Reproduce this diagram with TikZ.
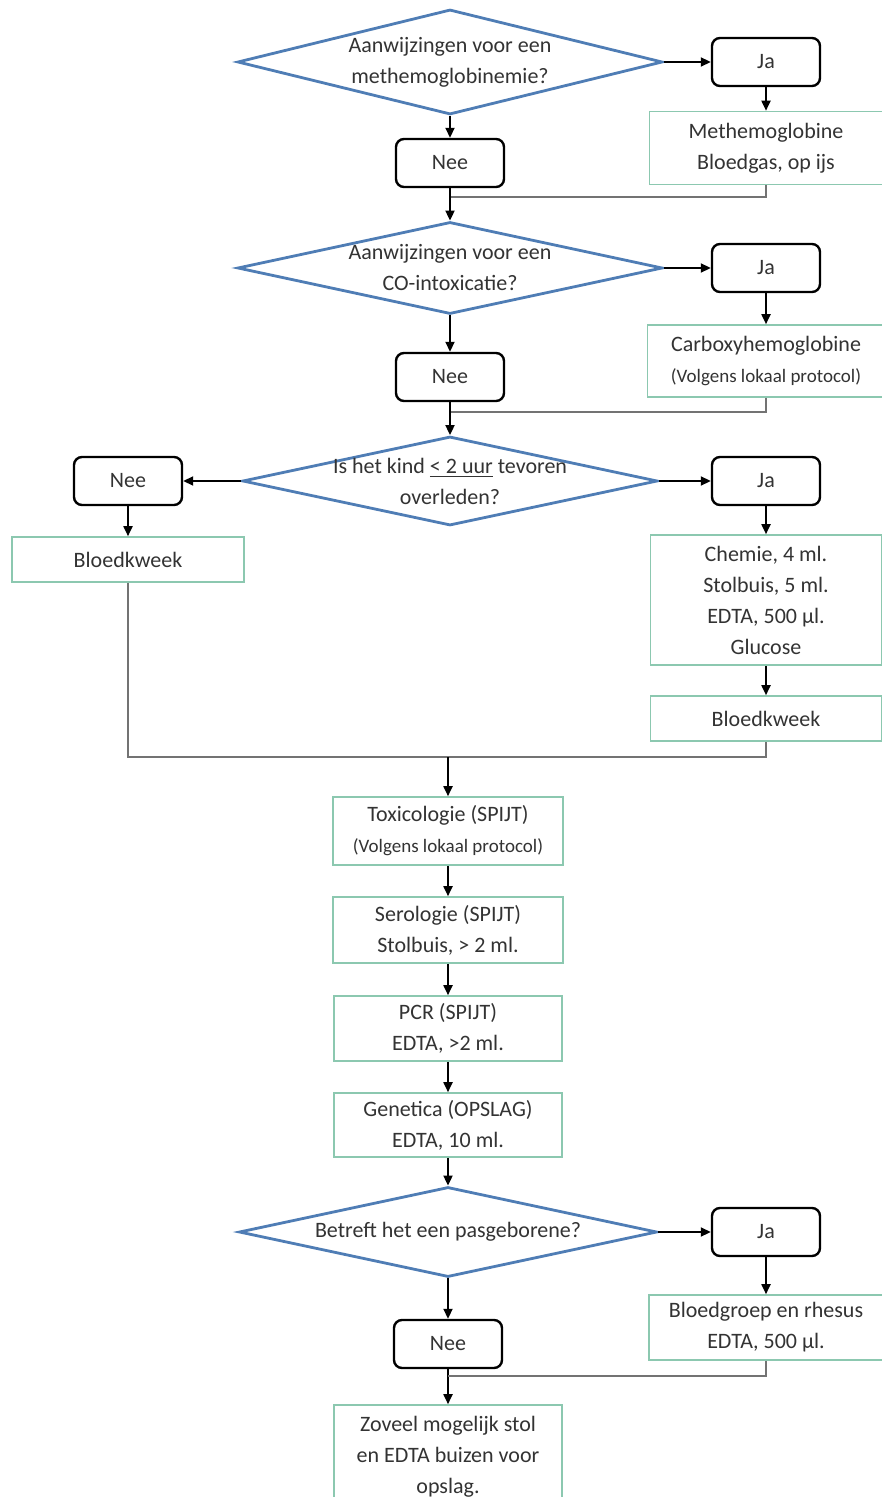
\documentclass[tikz,border=0pt]{standalone}
\usepackage{fontspec}
\setmainfont{Carlito}
\usetikzlibrary{shapes.geometric,arrows.meta}
\definecolor{vraagblauw}{HTML}{4F7DB5}
\definecolor{groen}{HTML}{8CC8B0}
\definecolor{tekstgrijs}{HTML}{333333}
\tikzset{
	tekst/.style={font=\fontsize{11}{15.5}\selectfont, text=tekstgrijs, align=center},
	vraag/.style={tekst, diamond, draw=vraagblauw, line width=1.4pt, fill=white, inner sep=-20pt, aspect=#1},
	keuze/.style={tekst, draw=black, line width=1.2pt, rounded corners=4pt, minimum width=54pt, minimum height=24pt},
	actie/.style={tekst, draw=groen, line width=0.8pt, fill=white, inner sep=1pt},
	pijl/.style={draw=black, line width=0.9pt, -{Triangle[length=5pt,width=4.5pt]}},
	lijn/.style={draw=black!55, line width=0.8pt}
}
\begin{document}
\begin{tikzpicture}[x=0.5pt,y=-0.5pt]
	\useasboundingbox (0,0) rectangle (882,1497);
	% eerste vraag
	\node[vraag=4.05, minimum width=212.5pt, minimum height=52.5pt] (v1) at (450,62) {Aanwijzingen voor een\\methemoglobinemie?};
	\node[keuze] (ja1) at (766,62) {Ja};
	\node[actie, minimum width=116.5pt, minimum height=36.5pt] (met) at (766,148) {Methemoglobine\\Bloedgas, op ijs};
	\node[keuze] (nee1) at (450,163) {Nee};
	\coordinate (j1) at (450,197);
	\draw[pijl] (v1.east) -- (ja1.west);
	\draw[pijl] (ja1.south) -- (met.north);
	\draw[pijl] (v1.south) -- (nee1.north);
	\draw[lijn] (met.south) |- (j1);
	% tweede vraag
	\node[vraag=4.6, minimum width=212.5pt, minimum height=46pt] (v2) at (450,268) {Aanwijzingen voor een\\CO-intoxicatie?};
	\draw[pijl] (nee1.south) -- (v2.north);
	\node[keuze] (ja2) at (766,268) {Ja};
	\node[actie, minimum width=118.5pt, minimum height=36pt] (carb) at (766,361) {Carboxyhemoglobine\\{\fontsize{9.5}{15.5}\selectfont(Volgens lokaal protocol)}};
	\node[keuze] (nee2) at (450,377) {Nee};
	\coordinate (j2) at (450,412);
	\draw[pijl] (v2.east) -- (ja2.west);
	\draw[pijl] (ja2.south) -- (carb.north);
	\draw[pijl] (v2.south) -- (nee2.north);
	\draw[lijn] (carb.south) |- (j2);
	% derde vraag
	\node[vraag=4.66, minimum width=207.5pt, minimum height=44.5pt] (v3) at (450,481) {Is het kind \underline{< 2 uur} tevoren\\overleden?};
	\draw[pijl] (nee2.south) -- (v3.north);
	\node[keuze] (nee3) at (128,481) {Nee};
	\node[keuze] (ja3) at (766,481) {Ja};
	\node[actie, minimum width=116pt, minimum height=22.5pt] (kweek1) at (128,559.5) {Bloedkweek};
	\node[actie, minimum width=115.5pt, minimum height=65pt] (chem) at (766,600) {Chemie, 4 ml.\\Stolbuis, 5 ml.\\EDTA, 500 µl.\\Glucose};
	\node[actie, minimum width=115.5pt, minimum height=22.5pt] (kweek2) at (766,718.5) {Bloedkweek};
	\draw[pijl] (v3.west) -- (nee3.east);
	\draw[pijl] (v3.east) -- (ja3.west);
	\draw[pijl] (nee3.south) -- (kweek1.north);
	\draw[pijl] (ja3.south) -- (chem.north);
	\draw[pijl] (chem.south) -- (kweek2.north);
	\coordinate (j3) at (448,757);
	\draw[lijn] (kweek1.south) |- (kweek2.south |- j3) -- (kweek2.south);
	% onderzoeken
	\node[actie, minimum width=115pt, minimum height=34pt] (tox) at (448,831) {Toxicologie (SPIJT)\\{\fontsize{9.5}{15.5}\selectfont(Volgens lokaal protocol)}};
	\node[actie, minimum width=115pt, minimum height=33pt] (sero) at (448,930) {Serologie (SPIJT)\\Stolbuis, > 2 ml.};
	\node[actie, minimum width=114pt, minimum height=32.5pt] (pcr) at (448,1028.5) {PCR (SPIJT)\\EDTA, >2 ml.};
	\node[actie, minimum width=114pt, minimum height=32pt] (gen) at (448,1125) {Genetica (OPSLAG)\\EDTA, 10 ml.};
	\draw[pijl] (j3) -- (tox.north);
	\draw[pijl] (tox) -- (sero);
	\draw[pijl] (sero) -- (pcr);
	\draw[pijl] (pcr) -- (gen);
	% vierde vraag
	\node[vraag=4.64, minimum width=209pt, minimum height=45pt] (v4) at (448,1232) {Betreft het een pasgeborene?};
	\draw[pijl] (gen.south) -- (v4.north);
	\node[keuze] (ja4) at (766,1232) {Ja};
	\node[actie, minimum width=117pt, minimum height=32.5pt] (bgr) at (766,1327.5) {Bloedgroep en rhesus\\EDTA, 500 µl.};
	\node[keuze] (nee4) at (448,1344) {Nee};
	\node[actie, minimum width=114pt, minimum height=52pt] (zov) at (448,1457) {Zoveel mogelijk stol\\en EDTA buizen voor\\opslag.};
	\coordinate (j4) at (448,1376);
	\draw[pijl] (v4.east) -- (ja4.west);
	\draw[pijl] (ja4.south) -- (bgr.north);
	\draw[pijl] (v4.south) -- (nee4.north);
	\draw[pijl] (nee4.south) -- (zov.north);
	\draw[lijn] (bgr.south) |- (j4);
\end{tikzpicture}
\end{document}
